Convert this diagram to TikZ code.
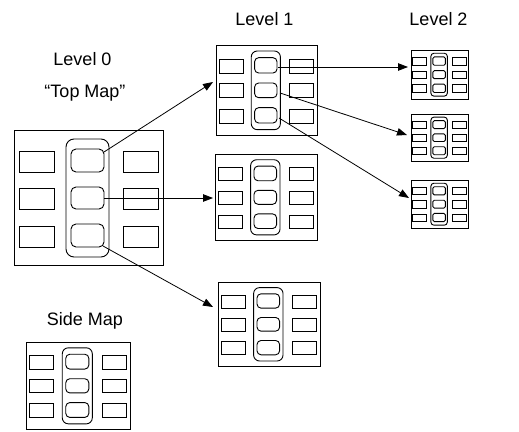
\documentclass[tikz,border=0pt]{standalone}
\usepackage{fontspec}
\setmainfont{Liberation Sans}
\usetikzlibrary{arrows.meta}
\tikzset{
  mapline/.style={line width=0.9pt},
  conn/.style={line width=0.8pt, -{Triangle[length=10pt,width=7.5pt]}},
  lbl/.style={anchor=base, font=\fontsize{18}{20}\selectfont, inner sep=0pt},
}
\newcommand\drawmap[7]{%
  \begin{scope}[shift={(#2,#3)}, xscale=#4/149, yscale=#5/135, mapline]
    \draw (0,0) rectangle (149,135);
    \foreach \a/\b/\c/\d in {21/42/19/42, 58/79/57/79, 96/117/94/117}{
      \draw (5,\a) rectangle (40,\b);
      \draw (109,\a) rectangle (144,\b);
      \draw[rounded corners=#7] (57,\c) rectangle (90,\d);
    }
    \draw[rounded corners=#6] (52,9) rectangle (95,127);
    \coordinate (#1) at (0,67.5);
  \end{scope}}
\begin{document}
\begin{tikzpicture}[x=1pt,y=-1pt]
  \useasboundingbox (0,0) rectangle (519,431);
  % labels
  \node[lbl] (l0) at (82.5,65) {Level 0};
  \node[lbl] (tm) at (85,97) {“Top Map”};
  \node[lbl] (l1) at (264.5,25) {Level 1};
  \node[lbl] (l2) at (438.5,25) {Level 2};
  \node[lbl] (sm) at (85,325) {Side Map};
  % maps
  \drawmap{top}{14}{130}{149}{135}{8pt}{5pt}
  \drawmap{ma}{216}{45}{101}{90}{6pt}{4pt}
  \drawmap{mb}{215}{154}{102}{86}{6pt}{4pt}
  \drawmap{mc}{218}{282}{102}{84}{6pt}{4pt}
  \drawmap{na}{411}{50}{57}{49}{3pt}{1.5pt}
  \drawmap{nb}{411}{114}{57}{47}{3pt}{1.5pt}
  \drawmap{nc}{411}{180}{57}{48}{3pt}{1.5pt}
  \drawmap{side}{26}{342}{104}{87}{6pt}{4pt}
  % connector ends
  \coordinate (s1) at (104,152); \coordinate (t1) at (213,82);
  \coordinate (s2) at (104,198); \coordinate (t2) at (213,198);
  \coordinate (s3) at (103,246); \coordinate (t3) at (213,307);
  \coordinate (s4) at (278,67);  \coordinate (t4) at (408,67);
  \coordinate (s5) at (280,93);  \coordinate (t5) at (407,135);
  \coordinate (s6) at (279,118); \coordinate (t6) at (409,198);
  \draw[conn] (s1) -- (t1);
  \draw[conn] (s2) -- (t2);
  \draw[conn] (s3) -- (t3);
  \draw[conn] (s4) -- (t4);
  \draw[conn] (s5) -- (t5);
  \draw[conn] (s6) -- (t6);
\end{tikzpicture}
\end{document}
